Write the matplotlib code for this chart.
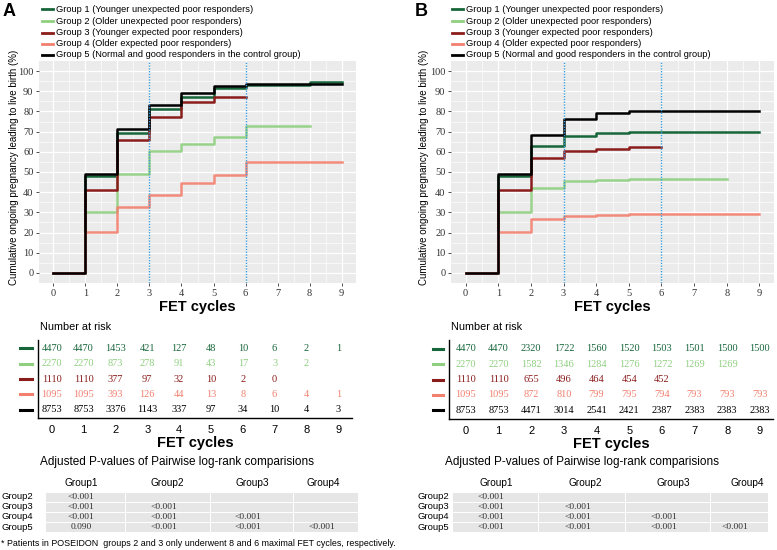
"""Cumulative live birth curves (panels A and B) with risk tables and p-value tables."""

import matplotlib
matplotlib.use("Agg")
import matplotlib.pyplot as plt
import numpy as np

W, H = 777, 550

SERIF = "Liberation Serif"
SANS = "Liberation Sans"

group_labels = [
    "Group 1 (Younger unexpected poor responders)",
    "Group 2 (Older unexpected poor responders)",
    "Group 3 (Younger expected poor responders)",
    "Group 4 (Older expected poor responders)",
    "Group 5 (Normal and good responders in the control group)",
]
group_colors = ["#17663a", "#8fcf80", "#8b1c1c", "#f3806f", "#000000"]
cycles = list(range(10))

# cumulative % at each cycle (step after), panel A
a_curves = [
    [0, 48, 69.5, 81.3, 87.3, 91.7, 93.3, 93.3, 94.4, 94.4],
    [0, 30, 49, 60.5, 64, 67.3, 73, 73, 73],
    [0, 41, 65.8, 77.3, 84.5, 87.3, 87.3],
    [0, 20.2, 32.8, 38.8, 44.5, 48.5, 55, 55, 55, 55],
    [0, 49, 71.1, 83.1, 88.9, 92.7, 93.5, 93.5, 93.5, 93.5],
]
# panel B
b_curves = [
    [0, 48, 63, 67.8, 69.2, 69.8, 70, 70, 70, 70],
    [0, 30, 42, 45.5, 46, 46.5, 46.5, 46.5, 46.5],
    [0, 41, 57, 60.6, 61.6, 62.2, 62.2],
    [0, 20.2, 26.7, 28, 28.8, 29, 29, 29, 29, 29],
    [0, 49, 68.3, 76.3, 79.2, 80.2, 80.4, 80.4, 80.4, 80.4],
]

a_risk = [
    [4470, 4470, 1453, 421, 127, 48, 10, 6, 2, 1],
    [2270, 2270, 873, 278, 91, 43, 17, 3, 2],
    [1110, 1110, 377, 97, 32, 10, 2, 0],
    [1095, 1095, 393, 126, 44, 13, 8, 6, 4, 1],
    [8753, 8753, 3376, 1143, 337, 97, 34, 10, 4, 3],
]
b_risk = [
    [4470, 4470, 2320, 1722, 1560, 1520, 1503, 1501, 1500, 1500],
    [2270, 2270, 1582, 1346, 1284, 1276, 1272, 1269, 1269],
    [1110, 1110, 655, 496, 464, 454, 452],
    [1095, 1095, 872, 810, 799, 795, 794, 793, 793, 793],
    [8753, 8753, 4471, 3014, 2541, 2421, 2387, 2383, 2383, 2383],
]

p_cols = ["Group1", "Group2", "Group3", "Group4"]
p_rows = ["Group2", "Group3", "Group4", "Group5"]
a_pvals = [
    ["<0.001", "", "", ""],
    ["<0.001", "<0.001", "", ""],
    ["<0.001", "<0.001", "<0.001", ""],
    ["0.090", "<0.001", "<0.001", "<0.001"],
]
b_pvals = [
    ["<0.001", "", "", ""],
    ["<0.001", "<0.001", "", ""],
    ["<0.001", "<0.001", "<0.001", ""],
    ["<0.001", "<0.001", "<0.001", "<0.001"],
]
cut_lines = [3, 6]

footnote = ("* Patients in POSEIDON  groups 2 and 3 only underwent 8 and 6 "
            "maximal FET cycles, respectively.")


def px_axes(fig, left, top, right, bottom):
    return fig.add_axes([left / W, 1 - bottom / H, (right - left) / W, (bottom - top) / H])


fig = plt.figure(figsize=(W / 100, H / 100), dpi=100)
over = fig.add_axes([0, 0, 1, 1], zorder=-1)
over.set_xlim(0, W)
over.set_ylim(H, 0)
over.axis("off")

panels = [
    # pixel layout for each panel
    dict(tag="A", curves=a_curves, risk=a_risk, pvals=a_pvals,
         tag_x=3, leg_x=42, plot=(39, 61, 356, 283), ylab_x=14,
         risk_box=(37.7, 340, 352, 418), risk_xlim=(-0.44, 9.43), dash_x=(20, 32),
         title_x=177, col_x=[81, 167, 252, 323], row_x=1,
         cells=(45, 125, 210, 293, 358)),
    dict(tag="B", curves=b_curves, risk=b_risk, pvals=b_pvals,
         tag_x=415, leg_x=452, plot=(451, 61, 774, 283), ylab_x=424,
         risk_box=(449.3, 340, 773, 419), risk_xlim=(-0.51, 9.40), dash_x=(433, 443),
         title_x=582, col_x=[496, 585, 673, 747], row_x=417,
         cells=(452, 538, 625, 710, 768)),
]

leg_rows = [9, 21, 32.5, 43.5, 54.5]
risk_rows = [5, 4, 3, 2, 1]
p_row_y = [496.7, 506.7, 516.9, 527.1]

for p in panels:
    over.text(p["tag_x"], 11, p["tag"], fontsize=13, fontweight="bold",
              family=SANS, va="center", ha="left")
    for i, lab in enumerate(group_labels):
        over.plot([p["leg_x"], p["leg_x"] + 11], [leg_rows[i]] * 2,
                  color=group_colors[i], lw=2)
        over.text(p["leg_x"] + 14, leg_rows[i], lab, fontsize=6.7, family=SANS,
                  va="center", ha="left")

    # survival-style plot
    l, t, r, b = p["plot"]
    ax = px_axes(fig, l, t, r, b)
    ax.set_facecolor("#EBEBEB")
    for s in ax.spines.values():
        s.set_visible(False)
    ax.set_xlim(-0.45, 9.45)
    ax.set_ylim(-5, 105)
    ax.set_xticks(cycles)
    ax.set_yticks(np.arange(0, 101, 10))
    ax.set_xticks(np.arange(0.5, 9, 1), minor=True)
    ax.set_yticks(np.arange(5, 100, 10), minor=True)
    ax.grid(True, which="major", color="white", lw=0.9)
    ax.grid(True, which="minor", color="white", lw=0.45)
    ax.set_axisbelow(True)
    ax.tick_params(which="major", length=2, width=0.6, color="#333333",
                   labelsize=7.5, labelcolor="#333333", pad=2)
    ax.tick_params(which="minor", length=0)
    for lbl in ax.get_xticklabels() + ax.get_yticklabels():
        lbl.set_family(SERIF)
    for i, vals in enumerate(p["curves"]):
        ax.step(cycles[:len(vals)], vals, where="post", color=group_colors[i],
                lw=1.8, alpha=0.9 if i == 1 or i == 3 else 1.0)
    for c in cut_lines:
        ax.axvline(c, color="#3b9ad9", ls=(0, (1, 1)), lw=1.0)
    ax.set_xlabel("FET cycles", fontsize=10.5, fontweight="bold", family=SANS,
                  labelpad=2)
    over.text(p["ylab_x"], 167, "Cumulative ongoing pregnancy leading to live birth (%)",
              rotation=90, fontsize=7, family=SANS, ha="center", va="center")

    # number at risk table
    l, t, r, b = p["risk_box"]
    over.text(l + 2, 327, "Number at risk", fontsize=7.8, family=SANS,
              ha="left", va="center")
    rax = px_axes(fig, l, t, r, b)
    rax.set_facecolor("none")
    rax.set_xlim(*p["risk_xlim"])
    rax.set_ylim(0.45, 5.55)
    rax.spines["top"].set_visible(False)
    rax.spines["right"].set_visible(False)
    rax.spines["left"].set_linewidth(1.0)
    rax.spines["bottom"].set_linewidth(1.0)
    rax.set_yticks([])
    rax.set_xticks(cycles)
    rax.tick_params(axis="x", length=0, labelsize=8, pad=5)
    for lbl in rax.get_xticklabels():
        lbl.set_family(SANS)
    rax.set_xlabel("FET cycles", fontsize=10.5, fontweight="bold", family=SANS,
                   labelpad=1)
    for i, row in enumerate(p["risk"]):
        for j, n in enumerate(row):
            rax.text(cycles[j], risk_rows[i], str(n), color=group_colors[i],
                     fontsize=7.5, family=SERIF, ha="center", va="center")
        yy = t + (5.55 - risk_rows[i]) / 5.1 * (b - t)
        over.plot(p["dash_x"], [yy, yy], color=group_colors[i], lw=2.2)

    # pairwise p-value table
    over.text(p["title_x"], 462, "Adjusted P-values of Pairwise log-rank comparisions",
              fontsize=8.5, family=SANS, ha="center", va="center")
    for k, cname in enumerate(p_cols):
        over.text(p["col_x"][k], 483.5, cname, fontsize=7.3, family=SANS,
                  ha="center", va="center")
    edges = p["cells"]
    for ri, rname in enumerate(p_rows):
        over.text(p["row_x"], p_row_y[ri], rname, fontsize=6.8, family=SANS,
                  ha="left", va="center")
        for k in range(4):
            over.add_patch(plt.Rectangle((edges[k], p_row_y[ri] - 5.1),
                                         edges[k + 1] - edges[k], 10.2,
                                         facecolor="#e6e6e6", edgecolor="white",
                                         lw=0.7))
            val = p["pvals"][ri][k]
            if val:
                over.text((edges[k] + edges[k + 1]) / 2 - 4, p_row_y[ri], val,
                          fontsize=6.8, family=SERIF, ha="center", va="center",
                          color="#333333")

over.text(1, 544, footnote, fontsize=6.4, family=SANS, ha="left", va="center")

fig.savefig("out.png", dpi=100)
